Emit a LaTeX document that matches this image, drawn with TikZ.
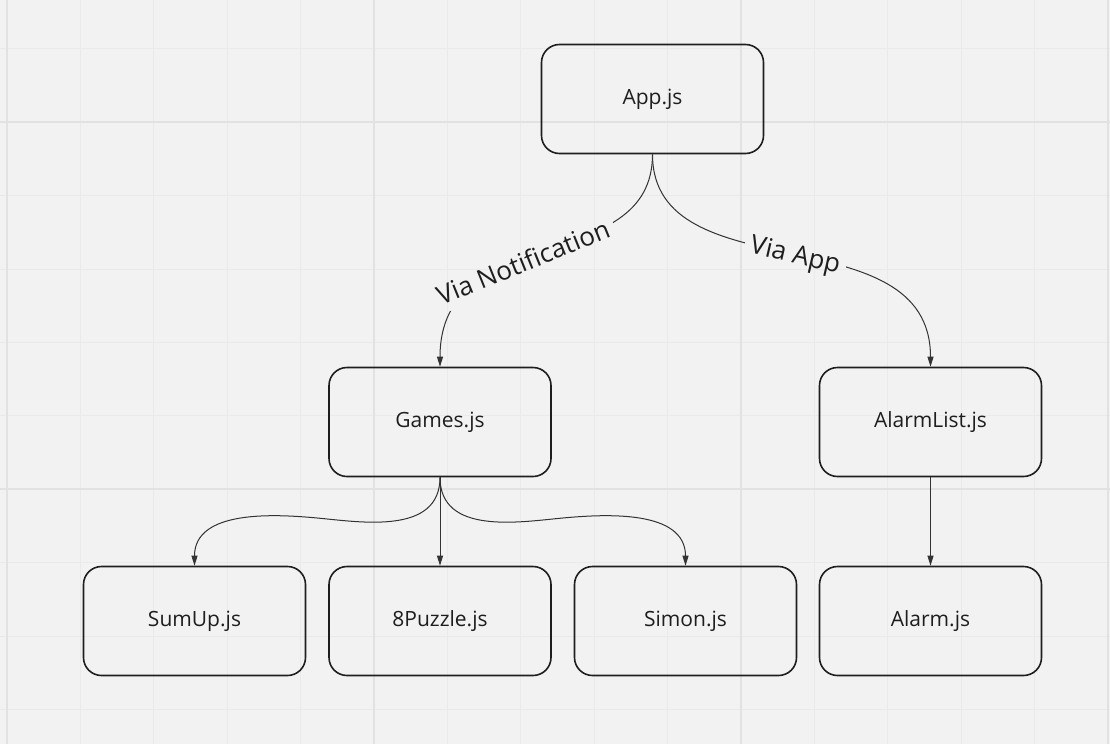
\documentclass[tikz,border=0pt]{standalone}
\usepackage{fontspec}
\setmainfont{Open Sans}
\usetikzlibrary{arrows.meta}
\definecolor{bg}{HTML}{F2F2F2}
\definecolor{gridminor}{HTML}{EAEAEA}
\definecolor{gridmajor}{HTML}{E2E2E2}
\definecolor{ink}{HTML}{1E1E1E}
\definecolor{wire}{HTML}{333333}
\begin{document}
\begin{tikzpicture}[x=1pt,y=-1pt,
  filebox/.style={draw=ink, line width=1.6pt, rounded corners=18pt,
    minimum width=222pt, minimum height=109pt, inner sep=0pt,
    text=ink, font=\fontsize{21pt}{25pt}\selectfont},
  wirelabel/.style={text=ink, font=\fontsize{26pt}{30pt}\selectfont,
    inner xsep=6pt, inner ysep=8pt},
  wire/.style={draw=wire, line width=1pt, -{Triangle[length=10pt,width=6pt]}},
  minorline/.style={draw=gridminor, line width=1pt},
  majorline/.style={draw=gridmajor, line width=1.6pt}]
\useasboundingbox (0,0) rectangle (1110,744);
\fill[bg] (0,0) rectangle (1110,744);
% grid
\foreach \i in {0,...,15} {\draw[minorline] ({7+73.4*\i},0) -- ({7+73.4*\i},744);}
\foreach \j in {-1,...,8} {\draw[minorline] (0,{122.2+73.4*\j}) -- (1110,{122.2+73.4*\j});}
\foreach \i in {0,5,10,15} {\draw[majorline] ({7+73.4*\i},0) -- ({7+73.4*\i},744);}
\foreach \j in {0,5} {\draw[majorline] (0,{122.2+73.4*\j}) -- (1110,{122.2+73.4*\j});}
% boxes
\node[filebox] (app) at (652.5,99) {App.js};
\node[filebox] (games) at (440,422) {Games.js};
\node[filebox] (alarmlist) at (930.5,422) {AlarmList.js};
\node[filebox] (sumup) at (194.5,621) {SumUp.js};
\node[filebox] (puzzle) at (440,621) {8Puzzle.js};
\node[filebox] (simon) at (685.5,621) {Simon.js};
\node[filebox] (alarm) at (930.5,621) {Alarm.js};
% labels
\node[wirelabel, rotate=22] (lab1) at (523,262) {Via Notification};
\node[wirelabel, rotate=-13] (lab2) at (795,257) {Via App};
% labelled connectors, with the label areas cut out
\begin{scope}
\clip (0,0) -- (1110,0) -- (1110,744) -- (0,744) -- cycle
      (lab1.south west) -- (lab1.south east) -- (lab1.north east) -- (lab1.north west) -- cycle
      (lab2.south west) -- (lab2.south east) -- (lab2.north east) -- (lab2.north west) -- cycle;
\draw[wire] (app.south) .. controls +(0,123) and +(0,-148) .. (games.north);
\draw[wire] (app.south) .. controls +(0,140) and +(0,-155) .. (alarmlist.north);
\end{scope}
% children
\coordinate (m1) at (317.25,518);
\coordinate (m2) at (562.75,518);
\draw[wire] (games.south) .. controls +(0,58) and +(43,4) .. (m1)
  .. controls +(-43,-4) and +(0,-56) .. (sumup.north);
\draw[wire] (games.south) .. controls +(0,58) and +(-43,4) .. (m2)
  .. controls +(43,-4) and +(0,-56) .. (simon.north);
\draw[wire] (games.south) -- (puzzle.north);
\draw[wire] (alarmlist.south) -- (alarm.north);
\end{tikzpicture}
\end{document}
